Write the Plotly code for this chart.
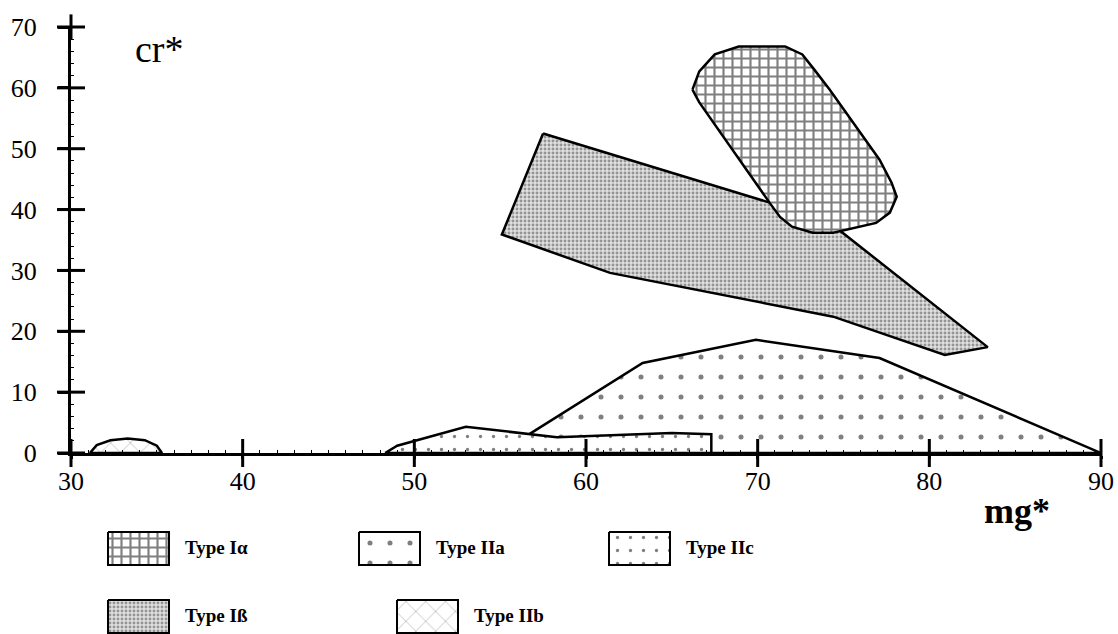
import plotly.graph_objects as go

# ---------------- data ----------------
# Type I-alpha field (rounded, cross-hatched)
ia_mg = [66.2, 66.6, 67.5, 68.9, 71.6, 72.6, 73.3, 74.2, 77.1, 77.8, 78.1, 77.7, 76.9, 74.4, 73.2, 72.0, 71.3, 70.7, 66.6]
ia_cr = [59.7, 62.7, 65.5, 66.8, 66.8, 65.5, 63.0, 59.7, 48.2, 44.4, 42.1, 39.5, 37.8, 36.2, 36.2, 37.2, 38.8, 41.1, 57.6]
# Type I-beta field (grey stipple)
ib_mg = [57.5, 74.0, 83.4, 80.9, 74.4, 61.4, 55.1]
ib_cr = [52.5, 38.3, 17.4, 16.1, 22.4, 29.6, 35.9]
# Type IIa field (dots)
iia_mg = [56.7, 63.3, 69.9, 77.1, 90.0, 56.7]
iia_cr = [3.1, 14.8, 18.6, 15.6, 0.0, 0.0]
# Type IIc field (carets)
iic_mg = [48.3, 49.0, 53.0, 56.7, 58.3, 65.0, 67.3, 67.3]
iic_cr = [0.0, 1.2, 4.3, 3.1, 2.6, 3.3, 3.1, 0.0]
# Type IIb field (dashes)
iib_mg = [31.1, 31.5, 32.3, 33.3, 34.3, 35.0, 35.3]
iib_cr = [0.0, 1.3, 2.1, 2.4, 2.1, 1.2, 0.0]

x_ticks = [30, 40, 50, 60, 70, 80, 90]
y_ticks = [0, 10, 20, 30, 40, 50, 60, 70]

legend_labels = ["Type I\u03b1", "Type IIa", "Type IIc", "Type I\u00df", "Type IIb"]
legend_keys = ["Ia", "IIa", "IIc", "Ib", "IIb"]

# ---------------- styles ----------------
SERIF = "Liberation Serif, Times New Roman, serif"
styles = {
    "Ia": dict(shape="+", size=9, solidity=0.42, fgcolor="black", bgcolor="white"),
    "Ib": dict(shape=".", size=4, solidity=0.42, fgcolor="#484848", bgcolor="#e0e0e0"),
    "IIa": dict(shape=".", size=20, solidity=0.05, fgcolor="black", bgcolor="white"),
    "IIb": dict(shape="x", size=14, solidity=0.06, fgcolor="black", bgcolor="white"),
    "IIc": dict(shape=".", size=13, solidity=0.05, fgcolor="black", bgcolor="white"),
}
series = {
    "IIa": (iia_mg, iia_cr),
    "IIc": (iic_mg, iic_cr),
    "IIb": (iib_mg, iib_cr),
    "Ib": (ib_mg, ib_cr),
    "Ia": (ia_mg, ia_cr),
}

W, H = 1118, 634
PL, PR, PT, PB = 71, 1101, 27, 453   # plot-area pixel box
TICK_FULL = 20                       # crossing tick length in px

fig = go.Figure()

for key, (xs, ys) in series.items():
    fig.add_trace(go.Scatter(
        x=list(xs) + [xs[0]], y=list(ys) + [ys[0]], fill="toself", mode="lines",
        line=dict(color="black", width=2.5),
        fillcolor="white", fillpattern=styles[key],
        hoverinfo="skip", showlegend=False, xaxis="x", yaxis="y"))

# ---------------- crossing tick marks (axis decoration from the tick arrays) ----------------
fig.add_trace(go.Scatter(
    x=x_ticks, y=[0] * len(x_ticks), mode="markers", cliponaxis=False,
    marker=dict(symbol="line-ns-open", size=TICK_FULL, color="black",
                line=dict(color="black", width=3)),
    hoverinfo="skip", showlegend=False))
fig.add_trace(go.Scatter(
    x=[30] * len(y_ticks), y=y_ticks, mode="markers", cliponaxis=False,
    marker=dict(symbol="line-ew-open", size=TICK_FULL, color="black",
                line=dict(color="black", width=3)),
    hoverinfo="skip", showlegend=False))
# small overshoot of the y axis line above the top tick
fig.add_trace(go.Scatter(
    x=[30], y=[y_ticks[-1]], mode="markers", cliponaxis=False,
    marker=dict(symbol="line-ns-open", size=18, color="black",
                line=dict(color="black", width=3)),
    hoverinfo="skip", showlegend=False))

# ---------------- custom legend (pixel coordinates on helper axes) ----------------
legend_pos = {"Ia": (108, 532), "IIa": (359, 532), "IIc": (609, 532),
              "Ib": (108, 600), "IIb": (397, 600)}
BW, BH = 61, 33
for key, label in zip(legend_keys, legend_labels):
    x0, y0 = legend_pos[key]
    fig.add_trace(go.Scatter(
        x=[x0, x0 + BW, x0 + BW, x0, x0], y=[y0, y0, y0 + BH, y0 + BH, y0],
        fill="toself", mode="lines", line=dict(color="black", width=2),
        fillcolor="white", fillpattern=styles[key],
        hoverinfo="skip", showlegend=False, xaxis="x2", yaxis="y2"))
    fig.add_annotation(x=x0 + BW + 14, y=y0 + BH / 2 - 1, xref="x2", yref="y2",
                       text="<b>" + label + "</b>", showarrow=False, xanchor="left",
                       yanchor="middle", font=dict(family=SERIF, size=19, color="black"))

fig.add_annotation(x=133 / W, y=1 - 49 / H, xref="paper", yref="paper", text="cr*",
                   showarrow=False, xanchor="left", yanchor="middle",
                   font=dict(family=SERIF, size=38, color="black"))
fig.add_annotation(x=982 / W, y=1 - 511 / H, xref="paper", yref="paper", text="<b>mg*</b>",
                   showarrow=False, xanchor="left", yanchor="middle",
                   font=dict(family=SERIF, size=36, color="black"))

xdom = [PL / W, PR / W]
ydom = [(H - PB) / H, (H - PT) / H]

axis_common = dict(showgrid=False, zeroline=False, automargin=False)
fig.update_layout(
    width=W, height=H,
    margin=dict(l=0, r=0, t=0, b=0),
    paper_bgcolor="white", plot_bgcolor="rgba(0,0,0,0)",
    showlegend=False,
    xaxis=dict(domain=xdom, range=[30, 90], tickvals=x_ticks, ticks="outside", ticklen=3,
               tickwidth=3, tickcolor="black", showline=True, linewidth=3, linecolor="black",
               anchor="y", ticklabelstandoff=0,
               tickfont=dict(family=SERIF, size=26, color="black"),
               minor=dict(dtick=1, ticks="inside", ticklen=3, tickwidth=1, tickcolor="black"),
               **axis_common),
    yaxis=dict(domain=ydom, range=[0, 70], tickvals=y_ticks, ticks="outside", ticklen=10,
               tickwidth=3, tickcolor="black", showline=True, linewidth=3, linecolor="black",
               anchor="x", ticklabelstandoff=16,
               tickfont=dict(family=SERIF, size=26, color="black"),
               minor=dict(dtick=2, ticks="inside", ticklen=3, tickwidth=1, tickcolor="black"),
               **axis_common),
    xaxis2=dict(domain=[0, 1], range=[0, W], visible=False, anchor="y2", **axis_common),
    yaxis2=dict(domain=[0, (H - PB) / H], range=[H, PB], visible=False, anchor="x2", **axis_common),
)

fig.write_html("out.html", config={"displayModeBar": False},
               post_script="document.body.style.margin='0px';document.body.style.overflow='hidden';")
